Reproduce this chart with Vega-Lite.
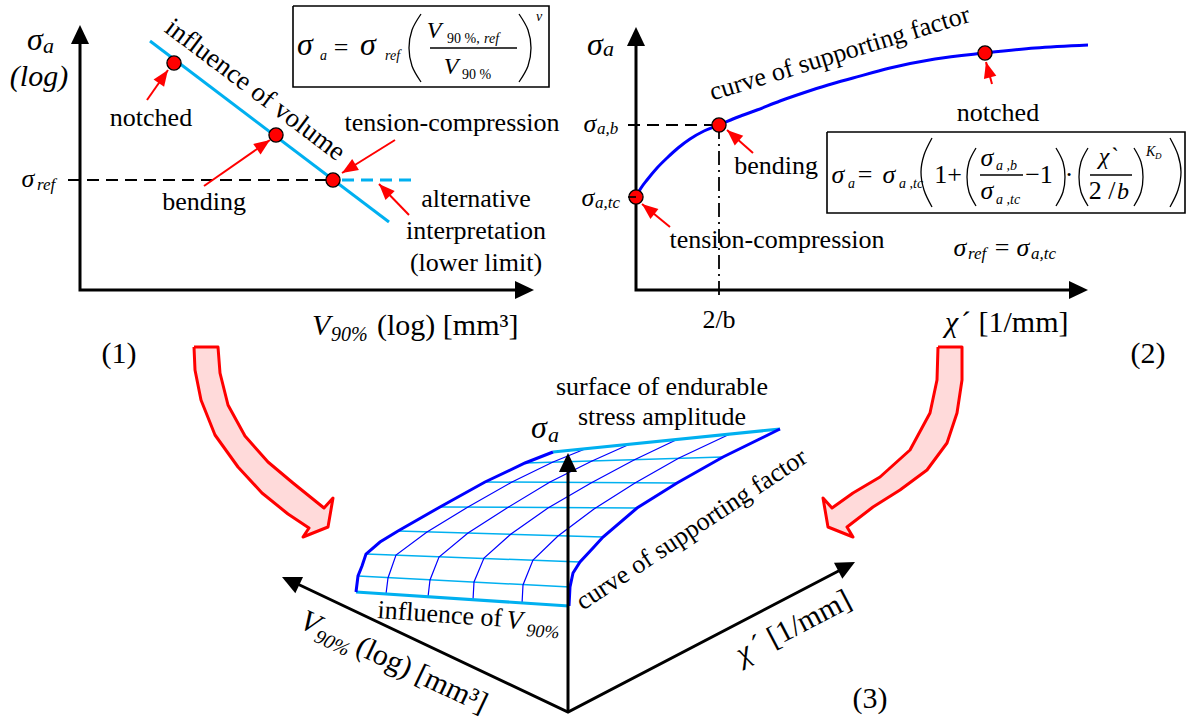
{
"$schema": "https://vega.github.io/schema/vega-lite/v6.json",
"width": 1192, "height": 719,
"autosize": {"type": "fit", "contains": "padding"},
"padding": 0,
"background": "white",
"config": {"view": {"stroke": null}},
"encoding": {
  "x": {"field": "x", "type": "quantitative", "scale": {"domain": [0, 1192], "nice": false, "zero": false}, "axis": null},
  "y": {"field": "y", "type": "quantitative", "scale": {"domain": [0, 719], "reverse": true, "nice": false, "zero": false}, "axis": null}
},
"layer": [
{"data": {"values": [
 {"g":"L","x":194,"y":347},{"g":"L","x":218,"y":347},{"g":"L","x":220,"y":373},{"g":"L","x":228,"y":405},{"g":"L","x":245,"y":436},{"g":"L","x":268,"y":462},{"g":"L","x":293,"y":483},{"g":"L","x":324,"y":508},{"g":"L","x":333,"y":498},{"g":"L","x":328,"y":527},{"g":"L","x":303,"y":537},{"g":"L","x":309,"y":528},{"g":"L","x":288,"y":514},{"g":"L","x":262,"y":493},{"g":"L","x":238,"y":467},{"g":"L","x":215,"y":435},{"g":"L","x":201,"y":400},{"g":"L","x":195,"y":370},{"g":"L","x":194,"y":347},
 {"g":"R","x":938,"y":347},{"g":"R","x":962,"y":347},{"g":"R","x":962,"y":380},{"g":"R","x":957,"y":413},{"g":"R","x":947,"y":443},{"g":"R","x":927,"y":470},{"g":"R","x":900,"y":490},{"g":"R","x":873,"y":507},{"g":"R","x":847,"y":527},{"g":"R","x":853,"y":537},{"g":"R","x":828,"y":527},{"g":"R","x":823,"y":498},{"g":"R","x":832,"y":508},{"g":"R","x":853,"y":493},{"g":"R","x":880,"y":477},{"g":"R","x":910,"y":450},{"g":"R","x":930,"y":413},{"g":"R","x":937,"y":380},{"g":"R","x":938,"y":347}
 ]},
 "mark": {"type": "line", "fill": "#FFDADA", "stroke": "#FF0000", "strokeWidth": 3, "strokeJoin": "round"},
 "encoding": {"detail": {"field": "g", "type": "nominal"}, "order": {"value": null}}},
{"data": {"values": [
 {"g":"h1","x":358,"y":576},{"g":"h1","x":570,"y":587},
 {"g":"h2","x":366,"y":554},{"g":"h2","x":580,"y":562},
 {"g":"h3","x":398,"y":531},{"g":"h3","x":603,"y":537},
 {"g":"h4","x":440,"y":507},{"g":"h4","x":637,"y":508},
 {"g":"h5","x":485,"y":482},{"g":"h5","x":677,"y":483},
 {"g":"h6","x":525,"y":463},{"g":"h6","x":723,"y":457}
 ]},
 "mark": {"type": "line", "stroke": "#00B0F0", "strokeWidth": 1.5},
 "encoding": {"detail": {"field": "g", "type": "nominal"}, "order": {"value": null}}},
{"data": {"values": [
 {"g":"v1","x":386,"y":594},{"g":"v1","x":388,"y":578},{"g":"v1","x":396,"y":555},{"g":"v1","x":427,"y":532},{"g":"v1","x":468,"y":507},{"g":"v1","x":512,"y":482},{"g":"v1","x":553,"y":462},{"g":"v1","x":585,"y":449},
 {"g":"v2","x":428,"y":597},{"g":"v2","x":430,"y":580},{"g":"v2","x":439,"y":557},{"g":"v2","x":468,"y":533},{"g":"v2","x":507,"y":508},{"g":"v2","x":550,"y":482},{"g":"v2","x":592,"y":461},{"g":"v2","x":630,"y":444},
 {"g":"v3","x":473,"y":600},{"g":"v3","x":474,"y":582},{"g":"v3","x":484,"y":558},{"g":"v3","x":511,"y":534},{"g":"v3","x":548,"y":508},{"g":"v3","x":591,"y":483},{"g":"v3","x":634,"y":460},{"g":"v3","x":678,"y":439},
 {"g":"v4","x":522,"y":604},{"g":"v4","x":523,"y":585},{"g":"v4","x":533,"y":560},{"g":"v4","x":558,"y":536},{"g":"v4","x":594,"y":509},{"g":"v4","x":635,"y":483},{"g":"v4","x":679,"y":458},{"g":"v4","x":730,"y":434}
 ]},
 "mark": {"type": "line", "stroke": "#0000FF", "strokeWidth": 1.2},
 "encoding": {"detail": {"field": "g", "type": "nominal"}, "order": {"value": null}}},
{"data": {"values": [
 {"g":"p1","x":150,"y":41},{"g":"p1","x":389,"y":222},
 {"g":"top","x":553,"y":452},{"g":"top","x":780,"y":429},
 {"g":"bot","x":356,"y":592},{"g":"bot","x":569,"y":606}
 ]},
 "mark": {"type": "line", "stroke": "#00B0F0", "strokeWidth": 3},
 "encoding": {"detail": {"field": "g", "type": "nominal"}, "order": {"value": null}}},
{"data": {"values": [
 {"g":"le","x":356,"y":592},{"g":"le","x":358,"y":576},{"g":"le","x":362,"y":566},{"g":"le","x":366,"y":554},{"g":"le","x":380,"y":542},{"g":"le","x":398,"y":531},{"g":"le","x":440,"y":507},{"g":"le","x":485,"y":482},{"g":"le","x":525,"y":463},{"g":"le","x":553,"y":452},
 {"g":"re","x":569,"y":606},{"g":"re","x":570,"y":587},{"g":"re","x":573,"y":573},{"g":"re","x":580,"y":562},{"g":"re","x":593,"y":548},{"g":"re","x":603,"y":537},{"g":"re","x":637,"y":508},{"g":"re","x":677,"y":483},{"g":"re","x":723,"y":457},{"g":"re","x":780,"y":429}
 ]},
 "mark": {"type": "line", "stroke": "#0000FF", "strokeWidth": 3},
 "encoding": {"detail": {"field": "g", "type": "nominal"}, "order": {"value": null}}},
{"data": {"values": [
 {"x":636,"y":197},{"x":641,"y":188},{"x":647,"y":180},{"x":657,"y":168},{"x":667,"y":158},{"x":678,"y":148},{"x":690,"y":139},{"x":704,"y":131},{"x":719,"y":125},{"x":738,"y":117},{"x":757,"y":110},{"x":780,"y":101},{"x":803,"y":93},{"x":828,"y":85},{"x":853,"y":78},{"x":890,"y":68},{"x":935,"y":59},{"x":985,"y":53},{"x":1035,"y":48},{"x":1088,"y":45}
 ]},
 "mark": {"type": "line", "stroke": "#0000FF", "strokeWidth": 3, "interpolate": "monotone"},
 "encoding": {"order": {"value": null}}},
{"data": {"values": [
 {"g":"ax1","x":80,"y":35},{"g":"ax1","x":80,"y":290},{"g":"ax1","x":526,"y":290},
 {"g":"ax2","x":636,"y":37},{"g":"ax2","x":636,"y":290},{"g":"ax2","x":1080,"y":290},
 {"g":"ax3","x":287,"y":579},{"g":"ax3","x":568,"y":712},{"g":"ax3","x":850,"y":565},
 {"g":"ax4","x":568,"y":712},{"g":"ax4","x":568,"y":462}
 ]},
 "mark": {"type": "line", "stroke": "#000000", "strokeWidth": 3, "strokeJoin": "miter"},
 "encoding": {"detail": {"field": "g", "type": "nominal"}, "order": {"value": null}}},
{"data": {"values": [
 {"x":80,"y":25,"a":0},{"x":534,"y":290,"a":90},{"x":636,"y":27,"a":0},{"x":1088,"y":290,"a":90},{"x":568,"y":453,"a":0},{"x":282,"y":577,"a":295.3},{"x":855,"y":562,"a":62.4}
 ]},
 "mark": {"type": "point", "shape": "M0,0L0.95,2L-0.95,2Z", "size": 361, "filled": true, "color": "#000000", "opacity": 1, "strokeWidth": 0},
 "encoding": {"angle": {"field": "a", "type": "quantitative", "scale": null}}},
{"data": {"values": [
 {"g":"d1","x":68,"y":180},{"g":"d1","x":333,"y":180},
 {"g":"d3","x":628,"y":125},{"g":"d3","x":719,"y":125}
 ]},
 "mark": {"type": "line", "stroke": "#000000", "strokeWidth": 2, "strokeDash": [12, 7]},
 "encoding": {"detail": {"field": "g", "type": "nominal"}, "order": {"value": null}}},
{"data": {"values": [{"x":719,"y":125},{"x":719,"y":300}]},
 "mark": {"type": "line", "stroke": "#000000", "strokeWidth": 1.8, "strokeDash": [14, 5, 2, 5]},
 "encoding": {"order": {"value": null}}},
{"data": {"values": [{"x":342,"y":180},{"x":418,"y":180}]},
 "mark": {"type": "line", "stroke": "#00B0F0", "strokeWidth": 3, "strokeDash": [12, 7]},
 "encoding": {"order": {"value": null}}},
{"data": {"values": [
 {"g":"a1","x":147,"y":100},{"g":"a1","x":168,"y":70},
 {"g":"a2","x":204,"y":186},{"g":"a2","x":270,"y":140},
 {"g":"a3","x":395,"y":140},{"g":"a3","x":342,"y":173},
 {"g":"a4","x":409,"y":215},{"g":"a4","x":379,"y":184},
 {"g":"a5","x":753,"y":153},{"g":"a5","x":727,"y":130},
 {"g":"a6","x":670,"y":227},{"g":"a6","x":642,"y":204},
 {"g":"a7","x":992,"y":84},{"g":"a7","x":986,"y":62}
 ]},
 "mark": {"type": "line", "stroke": "#FF0000", "strokeWidth": 2},
 "encoding": {"detail": {"field": "g", "type": "nominal"}, "order": {"value": null}}},
{"data": {"values": [
 {"x":168,"y":70,"a":35},{"x":270,"y":140,"a":55},{"x":342,"y":173,"a":238},{"x":379,"y":184,"a":316},{"x":727,"y":130,"a":311.5},{"x":642,"y":204,"a":309},{"x":986,"y":62,"a":345}
 ]},
 "mark": {"type": "point", "shape": "M0,0L0.8,2L-0.8,2Z", "size": 256, "filled": true, "color": "#FF0000", "opacity": 1, "strokeWidth": 0},
 "encoding": {"angle": {"field": "a", "type": "quantitative", "scale": null}}},
{"data": {"values": [
 {"x":174,"y":63},{"x":276,"y":135},{"x":333,"y":180},{"x":636,"y":197},{"x":719,"y":125},{"x":985,"y":53}
 ]},
 "mark": {"type": "circle", "size": 200, "color": "#FF0000", "stroke": "#000000", "strokeWidth": 1.3, "opacity": 1}},
{"data": {"values": [
 {"g":"b1","x":293,"y":6},{"g":"b1","x":549,"y":6},{"g":"b1","x":549,"y":87},{"g":"b1","x":293,"y":87},{"g":"b1","x":293,"y":6},
 {"g":"b2","x":827,"y":132},{"g":"b2","x":1185,"y":132},{"g":"b2","x":1185,"y":213},{"g":"b2","x":827,"y":213},{"g":"b2","x":827,"y":132},
 {"g":"f1","x":430,"y":48},{"g":"f1","x":517,"y":48},
 {"g":"f2","x":980,"y":175},{"g":"f2","x":1023,"y":175},
 {"g":"f3","x":1090,"y":175},{"g":"f3","x":1132,"y":175},
 {"g":"tk","x":628,"y":197},{"g":"tk","x":636,"y":197}
 ]},
 "mark": {"type": "line", "stroke": "#000000", "strokeWidth": 1.6, "strokeJoin": "miter"},
 "encoding": {"detail": {"field": "g", "type": "nominal"}, "order": {"value": null}}},
{"data": {"values": [
 {"g":"p1","x":421,"y":14},{"g":"p1","x":412,"y":30},{"g":"p1","x":409,"y":48},{"g":"p1","x":412,"y":66},{"g":"p1","x":421,"y":82},
 {"g":"p2","x":519,"y":14},{"g":"p2","x":528,"y":30},{"g":"p2","x":531,"y":48},{"g":"p2","x":528,"y":66},{"g":"p2","x":519,"y":82},
 {"g":"p3","x":932,"y":138},{"g":"p3","x":924,"y":155},{"g":"p3","x":921,"y":172},{"g":"p3","x":924,"y":190},{"g":"p3","x":932,"y":207},
 {"g":"p4","x":976,"y":148},{"g":"p4","x":969,"y":162},{"g":"p4","x":967,"y":177},{"g":"p4","x":969,"y":192},{"g":"p4","x":976,"y":206},
 {"g":"p5","x":1056,"y":148},{"g":"p5","x":1063,"y":162},{"g":"p5","x":1065,"y":177},{"g":"p5","x":1063,"y":192},{"g":"p5","x":1056,"y":206},
 {"g":"p6","x":1088,"y":148},{"g":"p6","x":1081,"y":162},{"g":"p6","x":1079,"y":177},{"g":"p6","x":1081,"y":192},{"g":"p6","x":1088,"y":206},
 {"g":"p7","x":1134,"y":148},{"g":"p7","x":1141,"y":162},{"g":"p7","x":1143,"y":177},{"g":"p7","x":1141,"y":192},{"g":"p7","x":1134,"y":206},
 {"g":"p8","x":1170,"y":138},{"g":"p8","x":1178,"y":155},{"g":"p8","x":1181,"y":172},{"g":"p8","x":1178,"y":190},{"g":"p8","x":1170,"y":207}
 ]},
 "mark": {"type": "line", "stroke": "#000000", "strokeWidth": 1.3, "interpolate": "catmull-rom"},
 "encoding": {"detail": {"field": "g", "type": "nominal"}, "order": {"value": null}}},
{"data": {"values": [
 {"t":"notched","x":151,"y":126},{"t":"bending","x":204,"y":210},{"t":"tension-compression","x":452,"y":131},
 {"t":"alternative","x":476,"y":207},{"t":"interpretation","x":476,"y":239},{"t":"(lower limit)","x":476,"y":271},
 {"t":"bending","x":776,"y":174},{"t":"tension-compression","x":777,"y":248},{"t":"notched","x":998,"y":121},
 {"t":"2/b","x":719,"y":328},{"t":"surface of endurable","x":662,"y":395},{"t":"stress amplitude","x":662,"y":425},
 {"t":"=","x":341,"y":56},{"t":"=","x":865,"y":183},{"t":"=","x":1002,"y":256},
 {"t":"1+","x":948,"y":183},{"t":"−1","x":1039,"y":183},{"t":"·","x":1069,"y":183},{"t":"2 /","x":1102,"y":199}
 ]},
 "mark": {"type": "text", "font": "Liberation Serif, Times New Roman, serif", "fontSize": 26, "align": "center", "baseline": "alphabetic", "color": "#000000"},
 "encoding": {"text": {"field": "t", "type": "nominal"}}},
{"data": {"values": [{"t":"(1)","x":119,"y":363},{"t":"(2)","x":1148,"y":363},{"t":"(3)","x":870,"y":708}]},
 "mark": {"type": "text", "font": "Liberation Serif, Times New Roman, serif", "fontSize": 30, "align": "center", "baseline": "alphabetic", "color": "#000000"},
 "encoding": {"text": {"field": "t", "type": "nominal"}}},
{"data": {"values": [{"t":"(log) [mm³]","x":377,"y":335},{"t":"´ [1/mm]","x":961,"y":332}]},
 "mark": {"type": "text", "font": "Liberation Serif, Times New Roman, serif", "fontSize": 30, "align": "left", "baseline": "alphabetic", "color": "#000000"},
 "encoding": {"text": {"field": "t", "type": "nominal"}}},
{"data": {"values": [{"t":"V","x":312,"y":335},{"t":"χ","x":945,"y":332}]},
 "mark": {"type": "text", "font": "Liberation Serif, Times New Roman, serif", "fontSize": 30, "fontStyle": "italic", "align": "left", "baseline": "alphabetic", "color": "#000000"},
 "encoding": {"text": {"field": "t", "type": "nominal"}}},
{"data": {"values": [{"t":"90%","x":331,"y":341}]},
 "mark": {"type": "text", "font": "Liberation Serif, Times New Roman, serif", "fontSize": 20, "fontStyle": "italic", "align": "left", "baseline": "alphabetic", "color": "#000000"},
 "encoding": {"text": {"field": "t", "type": "nominal"}}},
{"data": {"values": [{"t":"(log)","x":39,"y":86}]},
 "mark": {"type": "text", "font": "Liberation Serif, Times New Roman, serif", "fontSize": 30, "fontStyle": "italic", "align": "center", "baseline": "alphabetic", "color": "#000000"},
 "encoding": {"text": {"field": "t", "type": "nominal"}}},
{"data": {"values": [{"t":"σ","x":35,"y":50},{"t":"σ","x":305,"y":55},{"t":"σ","x":368,"y":55},{"t":"σ","x":595,"y":55},{"t":"σ","x":539,"y":438}]},
 "mark": {"type": "text", "font": "Liberation Serif, Times New Roman, serif", "fontSize": 32, "fontStyle": "italic", "align": "center", "baseline": "alphabetic", "color": "#000000"},
 "encoding": {"text": {"field": "t", "type": "nominal"}}},
{"data": {"values": [{"t":"σ","x":28,"y":187},{"t":"σ","x":590,"y":132},{"t":"σ","x":588,"y":206},{"t":"σ","x":960,"y":256},{"t":"σ","x":1023,"y":256},{"t":"σ","x":838,"y":183},{"t":"σ","x":889,"y":183},{"t":"σ","x":987,"y":166},{"t":"σ","x":987,"y":199}]},
 "mark": {"type": "text", "font": "Liberation Serif, Times New Roman, serif", "fontSize": 26, "fontStyle": "italic", "align": "center", "baseline": "alphabetic", "color": "#000000"},
 "encoding": {"text": {"field": "t", "type": "nominal"}}},
{"data": {"values": [{"t":"a","x":43,"y":53},{"t":"a","x":603,"y":56},{"t":"a","x":548,"y":442}]},
 "mark": {"type": "text", "font": "Liberation Serif, Times New Roman, serif", "fontSize": 22, "fontStyle": "italic", "align": "left", "baseline": "alphabetic", "color": "#000000"},
 "encoding": {"text": {"field": "t", "type": "nominal"}}},
{"data": {"values": [{"t":"ref","x":37,"y":190},{"t":"a,b","x":597,"y":134},{"t":"a,tc","x":595,"y":208},{"t":"ref","x":968,"y":259},{"t":"a,tc","x":1031,"y":259}]},
 "mark": {"type": "text", "font": "Liberation Serif, Times New Roman, serif", "fontSize": 17, "fontStyle": "italic", "align": "left", "baseline": "alphabetic", "color": "#000000"},
 "encoding": {"text": {"field": "t", "type": "nominal"}}},
{"data": {"values": [{"t":"a","x":320,"y":60},{"t":"ref","x":385,"y":60},{"t":"ref","x":484,"y":43},{"t":"ν","x":536,"y":21},{"t":"a","x":848,"y":188},{"t":"a ,tc","x":899,"y":188},{"t":"a ,b","x":996,"y":170},{"t":"a ,tc","x":996,"y":204},{"t":"K","x":1146,"y":156}]},
 "mark": {"type": "text", "font": "Liberation Serif, Times New Roman, serif", "fontSize": 14, "fontStyle": "italic", "align": "left", "baseline": "alphabetic", "color": "#000000"},
 "encoding": {"text": {"field": "t", "type": "nominal"}}},
{"data": {"values": [{"t":"D","x":1155,"y":159}]},
 "mark": {"type": "text", "font": "Liberation Serif, Times New Roman, serif", "fontSize": 9, "fontStyle": "italic", "align": "left", "baseline": "alphabetic", "color": "#000000"},
 "encoding": {"text": {"field": "t", "type": "nominal"}}},
{"data": {"values": [{"t":"90 %,","x":447,"y":43},{"t":"90 %","x":462,"y":79}]},
 "mark": {"type": "text", "font": "Liberation Serif, Times New Roman, serif", "fontSize": 14, "align": "left", "baseline": "alphabetic", "color": "#000000"},
 "encoding": {"text": {"field": "t", "type": "nominal"}}},
{"data": {"values": [{"t":"V","x":434,"y":38},{"t":"V","x":451,"y":74},{"t":"χ`","x":1108,"y":164},{"t":"b","x":1123,"y":199}]},
 "mark": {"type": "text", "font": "Liberation Serif, Times New Roman, serif", "fontSize": 24, "fontStyle": "italic", "align": "center", "baseline": "alphabetic", "color": "#000000"},
 "encoding": {"text": {"field": "t", "type": "nominal"}}},
{"data": {"values": [{"t":"influence of volume","x":255,"y":90}]},
 "mark": {"type": "text", "font": "Liberation Serif, Times New Roman, serif", "fontSize": 27, "align": "center", "baseline": "middle", "angle": 37, "color": "#000000"},
 "encoding": {"text": {"field": "t", "type": "nominal"}}},
{"data": {"values": [{"t":"curve of supporting factor","x":842,"y":61}]},
 "mark": {"type": "text", "font": "Liberation Serif, Times New Roman, serif", "fontSize": 26, "align": "center", "baseline": "alphabetic", "angle": -17, "color": "#000000"},
 "encoding": {"text": {"field": "t", "type": "nominal"}}},
{"data": {"values": [{"t":"curve of supporting factor","x":696,"y":536}]},
 "mark": {"type": "text", "font": "Liberation Serif, Times New Roman, serif", "fontSize": 26, "align": "center", "baseline": "alphabetic", "angle": -33.5, "color": "#000000"},
 "encoding": {"text": {"field": "t", "type": "nominal"}}},
{"data": {"values": [{"t":"influence of","x":377,"y":618}]},
 "mark": {"type": "text", "font": "Liberation Serif, Times New Roman, serif", "fontSize": 26, "align": "left", "baseline": "alphabetic", "angle": 4, "color": "#000000"},
 "encoding": {"text": {"field": "t", "type": "nominal"}}},
{"data": {"values": [{"t":"V","x":506,"y":628}]},
 "mark": {"type": "text", "font": "Liberation Serif, Times New Roman, serif", "fontSize": 26, "fontStyle": "italic", "align": "left", "baseline": "alphabetic", "angle": 4, "color": "#000000"},
 "encoding": {"text": {"field": "t", "type": "nominal"}}},
{"data": {"values": [{"t":"90%","x":526,"y":636}]},
 "mark": {"type": "text", "font": "Liberation Serif, Times New Roman, serif", "fontSize": 18, "fontStyle": "italic", "align": "left", "baseline": "alphabetic", "angle": 4, "color": "#000000"},
 "encoding": {"text": {"field": "t", "type": "nominal"}}},
{"data": {"values": [{"t":"V","x":298,"y":627}]},
 "mark": {"type": "text", "font": "Liberation Serif, Times New Roman, serif", "fontSize": 30, "fontStyle": "italic", "align": "left", "baseline": "alphabetic", "angle": 25.3, "color": "#000000"},
 "encoding": {"text": {"field": "t", "type": "nominal"}}},
{"data": {"values": [{"t":"90%","x":313,"y":641}]},
 "mark": {"type": "text", "font": "Liberation Serif, Times New Roman, serif", "fontSize": 20, "fontStyle": "italic", "align": "left", "baseline": "alphabetic", "angle": 25.3, "color": "#000000"},
 "encoding": {"text": {"field": "t", "type": "nominal"}}},
{"data": {"values": [{"t":"(log) [mm³]","x":354,"y":653}]},
 "mark": {"type": "text", "font": "Liberation Serif, Times New Roman, serif", "fontSize": 30, "align": "left", "baseline": "alphabetic", "angle": 25.3, "color": "#000000"},
 "encoding": {"text": {"field": "t", "type": "nominal"}}},
{"data": {"values": [{"t":"χ","x":742,"y":664}]},
 "mark": {"type": "text", "font": "Liberation Serif, Times New Roman, serif", "fontSize": 30, "fontStyle": "italic", "align": "left", "baseline": "alphabetic", "angle": -27.6, "color": "#000000"},
 "encoding": {"text": {"field": "t", "type": "nominal"}}},
{"data": {"values": [{"t":"´ [1/mm]","x":758,"y":656}]},
 "mark": {"type": "text", "font": "Liberation Serif, Times New Roman, serif", "fontSize": 30, "align": "left", "baseline": "alphabetic", "angle": -27.6, "color": "#000000"},
 "encoding": {"text": {"field": "t", "type": "nominal"}}}
]
}
